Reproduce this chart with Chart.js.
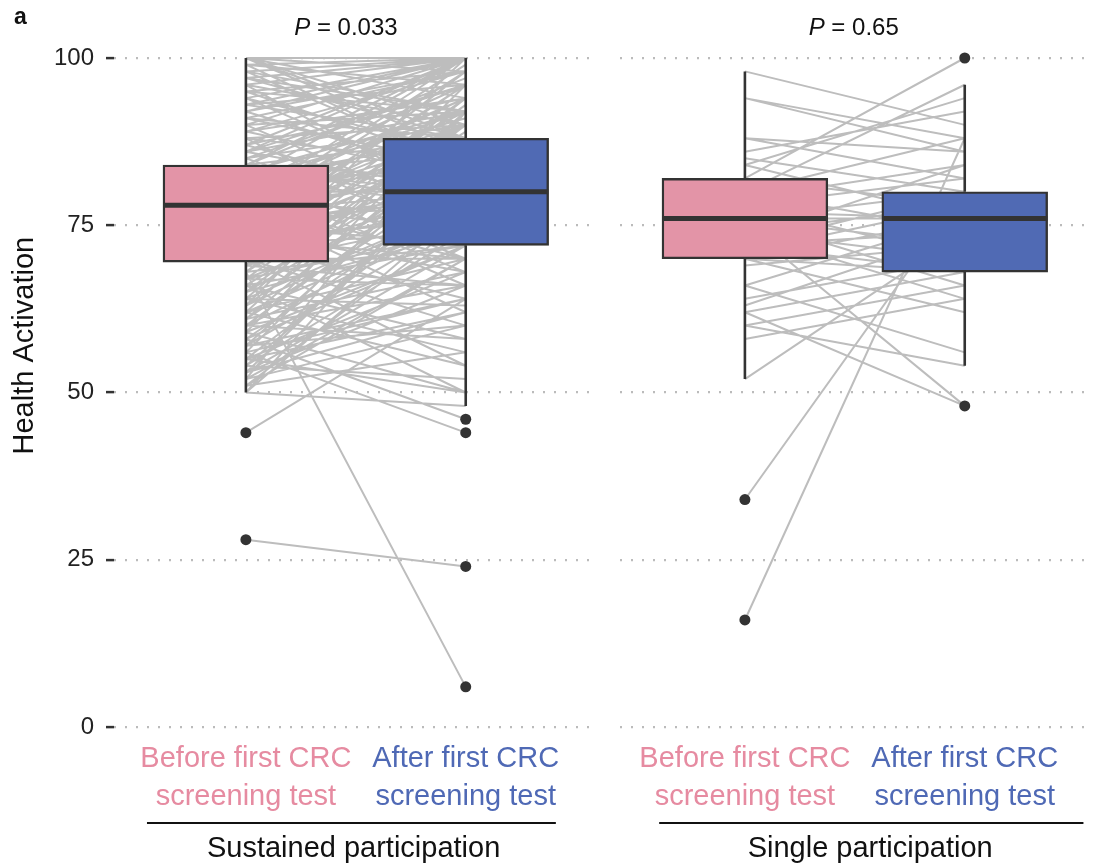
<!DOCTYPE html>
<html>
<head>
<meta charset="utf-8">
<script src="https://cdn.jsdelivr.net/npm/chart.js@4/dist/chart.umd.min.js"></script>
<style>
  html, body { margin: 0; padding: 0; background: #fff; }
  #wrap { width: 1094px; height: 866px; position: relative; }
</style>
</head>
<body>
<div id="wrap"><canvas id="haChart"></canvas></div>
<script>
// ---- data ----
var tickLabels = [0, 25, 50, 75, 100];
var conditionLabels = [
  ['Before first CRC', 'screening test'],
  ['After first CRC', 'screening test'],
  ['Before first CRC', 'screening test'],
  ['After first CRC', 'screening test']
];
var groupLabels = ['Sustained participation', 'Single participation'];
var pLabels = ['0.033', '0.65'];

// box positions on the x scale (two per facet)
var boxPos = [1, 2, 3.27, 4.27];
var boxQ1 = [69.5, 72, 70, 68];
var boxMedian = [78, 80, 76, 76];
var boxQ3 = [84, 88, 82, 80];
var whiskerLow = [50, 48, 52, 54];
var whiskerHigh = [100, 100, 98, 96];
var outliers = [[44, 28], [46, 44, 24, 6], [34, 16], [100, 48]];

// paired participants, sustained participation
var sustainedBefore = [100, 100, 100, 100, 99, 99, 98, 98, 97, 97, 96, 96, 95, 95, 94, 94, 93, 93, 92, 92,
  91, 91, 90, 90, 89, 89, 88, 88, 87, 87, 86, 86, 86, 85, 85, 84, 84, 84, 84, 83,
  83, 83, 82, 82, 82, 81, 81, 81, 80, 80, 80, 80, 79, 79, 79, 78, 78, 78, 78, 77,
  77, 77, 76, 76, 76, 75, 75, 75, 74, 74, 74, 73, 73, 73, 72, 72, 72, 71, 71, 71,
  70, 70, 70, 69, 69, 69, 68, 68, 68, 67, 67, 67, 66, 66, 65, 65, 64, 64, 63, 63,
  62, 62, 61, 61, 60, 60, 59, 59, 58, 58, 57, 57, 56, 56, 55, 55, 54, 54, 53, 53,
  52, 52, 51, 51, 50, 50, 44, 28,
  100, 100, 99, 98, 97, 96, 95, 94, 93, 92, 91, 90, 89, 88, 87, 86, 85, 84, 83, 82,
  81, 80, 79, 78, 77, 76, 75, 74, 73, 72, 71, 70, 69, 68, 67, 66, 65, 64, 63, 62,
  61, 60, 59, 58, 57, 56, 55, 54, 53, 52, 51, 50, 60, 64, 66, 70, 57, 55, 62, 53];
var sustainedAfter = [100, 94, 88, 86, 100, 96, 92, 84, 100, 92, 90, 78, 98, 84, 100, 86, 96, 100, 82, 98,
  88, 98, 100, 76, 94, 82, 90, 72, 100, 94, 92, 80, 100, 96, 74, 88, 82, 97, 78, 86,
  70, 92, 91, 78, 100, 84, 68, 96, 90, 80, 94, 66, 86, 76, 100, 99, 82, 70, 88, 80,
  62, 90, 92, 78, 84, 72, 96, 86, 80, 68, 90, 76, 86, 98, 82, 64, 74, 88, 78, 94,
  70, 93, 60, 84, 76, 100, 6, 72, 89, 66, 80, 90, 86, 58, 74, 84, 63, 92, 78, 96,
  70, 54, 82, 88, 66, 76, 50, 92, 46, 72, 86, 76, 44, 64, 80, 68, 52, 74, 62, 84,
  70, 60, 56, 70, 48, 78, 64, 24,
  98, 90, 84, 100, 88, 100, 92, 80, 88, 100, 84, 92, 98, 84, 78, 96, 90, 100, 80, 88,
  92, 84, 94, 74, 98, 88, 80, 96, 70, 90, 84, 80, 66, 94, 74, 72, 90, 78, 86, 92,
  68, 84, 72, 80, 64, 88, 62, 82, 72, 92, 76, 86, 58, 56, 50, 54, 60, 50, 76, 66];

// paired participants, single participation
var singleBefore = [98, 94, 94, 88, 88, 86, 85, 84, 84, 82, 82, 80, 80, 80, 79, 78, 78, 77, 76, 76,
  76, 76, 75, 74, 74, 74, 73, 72, 72, 72, 71, 70, 70, 70, 69, 66, 66, 64, 63, 62,
  62, 60, 60, 58, 52, 34, 16];
var singleAfter = [90, 86, 88, 82, 86, 92, 80, 94, 76, 100, 78, 88, 74, 96, 84, 70, 82, 76, 76, 72,
  80, 66, 48, 78, 70, 64, 84, 74, 68, 80, 78, 68, 62, 76, 72, 76, 56, 70, 74, 68,
  48, 54, 66, 64, 74, 80, 88];

// ---- layout constants ----
var xMin = 0.4, xMax = 4.833;
var plotLeft = 114, plotTop = 58, plotWidth = 1094 - 114;
var boxWidth = 0.75;
var panelGap = [2.6, 2.67];
var groupCenters = [1.49, 3.84];
var groupSpans = [[0.55, 2.41], [2.88, 4.81]];
var pCenters = [1.455, 3.765];
var pinkFill = '#E394A7', blueFill = '#506AB4';
var pinkText = '#E68BA1', blueText = '#4F69B5';
var dark = '#333333';
var fontFamily = "'Liberation Sans', Arial, Helvetica, sans-serif";

function pairSegments(xa, xb, before, after) {
  var pts = [];
  for (var i = 0; i < before.length; i++) {
    pts.push({x: xa, y: before[i]}, {x: xb, y: after[i]}, {x: xb, y: null});
  }
  return pts;
}

var whiskerPts = [], medianPts = [], outlierPts = [];
for (var i = 0; i < boxPos.length; i++) {
  whiskerPts.push({x: boxPos[i], y: boxQ3[i]}, {x: boxPos[i], y: whiskerHigh[i]}, {x: boxPos[i], y: null});
  whiskerPts.push({x: boxPos[i], y: boxQ1[i]}, {x: boxPos[i], y: whiskerLow[i]}, {x: boxPos[i], y: null});
  medianPts.push({x: boxPos[i] - boxWidth / 2, y: boxMedian[i]}, {x: boxPos[i] + boxWidth / 2, y: boxMedian[i]}, {x: boxPos[i], y: null});
  outliers[i].forEach(function (v) { outlierPts.push({x: boxPos[i], y: v}); });
}

var extras = {
  id: 'extras',
  beforeDraw: function (chart) {
    var c = chart.ctx;
    c.save();
    c.fillStyle = '#fff';
    c.fillRect(0, 0, chart.width, chart.height);
    c.restore();
  },
  beforeDatasetsDraw: function (chart) {
    // blank strip between the two facets
    var x = chart.scales.x, a = chart.chartArea, c = chart.ctx;
    c.save();
    c.fillStyle = '#fff';
    c.fillRect(x.getPixelForValue(panelGap[0]), a.top - 3, x.getPixelForValue(panelGap[1]) - x.getPixelForValue(panelGap[0]), a.bottom - a.top + 6);
    c.restore();
  },
  afterDraw: function (chart) {
    var c = chart.ctx, x = chart.scales.x, y = chart.scales.y, x2 = chart.scales.x2;
    c.save();
    c.fillStyle = '#111';
    c.textBaseline = 'middle';
    // panel tag
    c.font = 'bold 23px ' + fontFamily;
    c.textAlign = 'left';
    c.fillText('a', 14, 18);
    // P values above each facet
    for (var p = 0; p < pLabels.length; p++) {
      var cx = x.getPixelForValue(pCenters[p]);
      var rest = ' = ' + pLabels[p];
      c.font = 'italic 24px ' + fontFamily;
      var w1 = c.measureText('P').width;
      c.font = '24px ' + fontFamily;
      var w2 = c.measureText(rest).width;
      var sx = cx - (w1 + w2) / 2;
      c.textAlign = 'left';
      c.font = 'italic 24px ' + fontFamily;
      c.fillText('P', sx, 28);
      c.font = '24px ' + fontFamily;
      c.fillText(rest, sx + w1, 28);
    }
    // y title
    c.save();
    c.translate(25, y.getPixelForValue(57));
    c.rotate(-Math.PI / 2);
    c.textAlign = 'center';
    c.font = '29px ' + fontFamily;
    c.fillText('Health Activation', 0, 0);
    c.restore();
    // facet underlines
    c.strokeStyle = '#111';
    c.lineWidth = 2.2;
    groupSpans.forEach(function (s) {
      c.beginPath();
      c.moveTo(x2.getPixelForValue(s[0]), x2.top + 1);
      c.lineTo(x2.getPixelForValue(s[1]), x2.top + 1);
      c.stroke();
    });
    c.restore();
  }
};

new Chart(document.getElementById('haChart'), {
  type: 'bar',
  data: {
    datasets: [
      {
        type: 'line', data: pairSegments(boxPos[0], boxPos[1], sustainedBefore, sustainedAfter),
        borderColor: '#BDBDBD', borderWidth: 2, pointRadius: 0, spanGaps: false, order: 5, clip: false
      },
      {
        type: 'line', data: pairSegments(boxPos[2], boxPos[3], singleBefore, singleAfter),
        borderColor: '#BDBDBD', borderWidth: 2, pointRadius: 0, spanGaps: false, order: 5, clip: false
      },
      {
        type: 'line', data: whiskerPts,
        borderColor: dark, borderWidth: 2.6, pointRadius: 0, spanGaps: false, order: 4, clip: false
      },
      {
        type: 'bar',
        data: boxPos.map(function (v, i) { return {x: v, y: [boxQ1[i], boxQ3[i]]}; }),
        backgroundColor: [pinkFill, blueFill, pinkFill, blueFill],
        borderColor: dark, borderWidth: 2.4, borderSkipped: false,
        barThickness: boxWidth * plotWidth / (xMax - xMin), order: 3
      },
      {
        type: 'line', data: medianPts,
        borderColor: dark, borderWidth: 5, pointRadius: 0, spanGaps: false, order: 2, clip: false
      },
      {
        type: 'line', data: outlierPts, showLine: false,
        pointRadius: 5.5, pointBackgroundColor: dark, pointBorderWidth: 0, order: 1, clip: false
      }
    ]
  },
  options: {
    responsive: true,
    maintainAspectRatio: false,
    animation: false,
    layout: { padding: { top: plotTop, left: 0, right: 0, bottom: 0 } },
    plugins: { legend: { display: false }, tooltip: { enabled: false } },
    scales: {
      x: {
        type: 'linear', min: xMin, max: xMax, offset: false, weight: 0,
        grid: { display: false, drawTicks: false }, border: { display: false },
        afterBuildTicks: function (s) { s.ticks = boxPos.map(function (v) { return {value: v}; }); },
        afterFit: function (s) { s.height = 95; },
        ticks: {
          autoSkip: false, maxRotation: 0, padding: 13,
          font: { family: fontFamily, size: 29, lineHeight: 1.31 },
          color: function (ctx) { return ctx.index % 2 === 0 ? pinkText : blueText; },
          callback: function (v, i) { return conditionLabels[i]; }
        }
      },
      x2: {
        type: 'linear', position: 'bottom', min: xMin, max: xMax, offset: false, weight: 1,
        grid: { display: false, drawTicks: false }, border: { display: false },
        afterBuildTicks: function (s) { s.ticks = groupCenters.map(function (v) { return {value: v}; }); },
        afterFit: function (s) { s.height = 44; },
        ticks: {
          autoSkip: false, maxRotation: 0, padding: 10,
          font: { family: fontFamily, size: 29, lineHeight: 1.2 }, color: '#111',
          callback: function (v, i) { return groupLabels[i]; }
        }
      },
      y: {
        type: 'linear', min: 0, max: 100, stacked: false,
        afterBuildTicks: function (s) { s.ticks = tickLabels.map(function (v) { return {value: v}; }); },
        afterFit: function (s) { s.width = plotLeft; },
        grid: {
          color: '#BBBBBB', lineWidth: 2.2, borderDash: [2, 9],
          tickColor: dark, tickWidth: 2.5, tickLength: 8, tickBorderDash: [0, 0]
        },
        border: { display: false, dash: [2, 9] },
        ticks: { padding: 12, font: { family: fontFamily, size: 24 }, color: '#222' }
      }
    }
  },
  plugins: [extras]
});
</script>
</body>
</html>
